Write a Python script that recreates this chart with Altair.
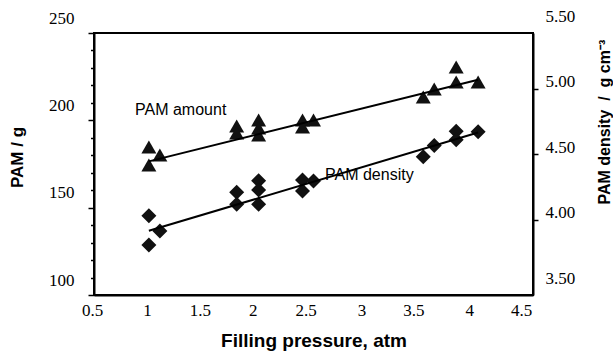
import altair as alt
import pandas as pd

# PAM amount (left axis, g) against filling pressure (atm)
pressure_amount = [1.0, 1.0, 1.1, 1.8, 1.8, 2.0, 2.0, 2.0, 2.4, 2.4, 2.5, 3.5, 3.6, 3.8, 3.8, 4.0]
pam_amount = [184.7, 174.4, 180.2, 196.8, 192.7, 200.2, 195.6, 191.6, 200.2, 196.2, 200.2,
              213.4, 218.0, 230.5, 221.9, 221.9]

# PAM density (right axis, g cm-3) against filling pressure (atm)
pressure_density = [1.0, 1.0, 1.1, 1.8, 1.8, 2.0, 2.0, 2.0, 2.4, 2.4, 2.5, 3.5, 3.6, 3.8, 3.8, 4.0]
pam_density = [4.105, 3.882, 3.989, 4.284, 4.192, 4.373, 4.302, 4.192, 4.378, 4.294, 4.370,
               4.556, 4.641, 4.750, 4.686, 4.747]

# straight-line fits through each series
fit_pressure = [1.0, 4.0]
amount_fit = [176.5, 223.2]
density_fit = [3.99, 4.74]

# in-plot series labels
amount_label = {"text": "PAM amount", "pressure": 0.874, "value": 203.0}
density_label = {"text": "PAM density", "pressure": 2.605, "value": 4.378}

x_ticks = [0.5, 1.0, 1.5, 2.0, 2.5, 3.0, 3.5, 4.0, 4.5]
left_ticks = list(range(100, 251, 10))
right_ticks = [3.5, 4.0, 4.5, 5.0, 5.5]

df_amount = pd.DataFrame({"pressure": pressure_amount, "amount": pam_amount})
df_density = pd.DataFrame({"pressure": pressure_density, "density": pam_density})
df_amount_fit = pd.DataFrame({"pressure": fit_pressure, "amount": amount_fit})
df_density_fit = pd.DataFrame({"pressure": fit_pressure, "density": density_fit})
df_amount_lbl = pd.DataFrame([{"pressure": amount_label["pressure"], "amount": amount_label["value"],
                               "text": amount_label["text"]}])
df_density_lbl = pd.DataFrame([{"pressure": density_label["pressure"], "density": density_label["value"],
                                "text": density_label["text"]}])

SERIF = "Liberation Serif"
SANS = "Liberation Sans"
INK = "#111111"

x_label_shift = [
    {"test": "abs(datum.value - 1.5) < 0.01", "value": -4},
    {"test": "abs(datum.value - 2.0) < 0.01", "value": -6},
    {"test": "abs(datum.value - 2.5) < 0.01", "value": -8},
    {"test": "abs(datum.value - 3.0) < 0.01", "value": -7},
    {"test": "abs(datum.value - 3.5) < 0.01", "value": -10},
    {"test": "abs(datum.value - 4.0) < 0.01", "value": -9},
    {"test": "abs(datum.value - 4.5) < 0.01", "value": -12},
]

x_axis = alt.Axis(
    values=x_ticks, format="~g", ticks=False, grid=False, labelFlush=False, labelOverlap=False,
    labelFont=SERIF, labelFontSize=17, labelPadding=7, labelColor="black",
    labelOffset={"condition": x_label_shift, "value": -2},
    domainColor="black", domainWidth=2,
    title="Filling pressure, atm", titleFont=SANS, titleFontSize=19, titleFontWeight="bold",
    titleColor="black", titleBaseline="alphabetic", titleY=51,
)

left_axis = alt.Axis(
    orient="left", values=left_ticks, grid=False, labelFlush=False,
    labelExpr="datum.value % 50 === 0 ? datum.label : ''",
    labelFont=SERIF, labelFontSize=17, labelColor="black", labelOffset=-15, labelPadding=14,
    tickColor="black", tickWidth=1.5,
    tickSize={"condition": {"test": "datum.value % 50 === 0", "value": 6}, "value": 3.5},
    domainColor="black", domainWidth=2,
    title="PAM / g", titleFont=SANS, titleFontSize=17, titleFontWeight="bold", titleColor="black",
    titleAngle=270, titleAlign="center", titleBaseline="alphabetic", titleX=-72, titleY=124,
)

right_axis = alt.Axis(
    orient="right", values=right_ticks, format=".2f", grid=False, labelFlush=False,
    labelFont=SERIF, labelFontSize=17, labelColor="black", labelPadding=7,
    tickOffset=-10, labelOffset=-7, tickSize=5, tickWidth=1.5,
    tickColor={"condition": {"test": "datum.value < 3.75 || datum.value > 5.25", "value": "transparent"},
               "value": "black"},
    domainColor="black", domainWidth=2,
    title="PAM density\u00a0\u00a0/\u00a0\u00a0g cm\u207b\u00b3", titleFont=SANS, titleFontSize=16,
    titleFontWeight="bold", titleColor="black", titleAngle=270, titleAlign="left",
    titleBaseline="alphabetic", titleX=76, titleY=171,
)

x_enc = alt.X("pressure:Q", scale=alt.Scale(domain=[0.5, 4.5], nice=False, zero=False), axis=x_axis)
y_amount = alt.Y("amount:Q", scale=alt.Scale(domain=[100, 250], nice=False, zero=False), axis=left_axis)
y_density = alt.Y("density:Q", scale=alt.Scale(domain=[3.5, 5.5], nice=False, zero=False), axis=right_axis)

amount_points = alt.Chart(df_amount).mark_point(
    shape="triangle-up", filled=True, size=225, color=INK, opacity=1
).encode(x=x_enc, y=y_amount)
amount_line = alt.Chart(df_amount_fit).mark_line(color="black", strokeWidth=2).encode(x=x_enc, y=y_amount)
amount_text = alt.Chart(df_amount_lbl).mark_text(
    font=SANS, fontSize=16, color="black", align="left", baseline="alphabetic"
).encode(x=x_enc, y=y_amount, text="text:N")

density_points = alt.Chart(df_density).mark_point(
    shape="diamond", filled=True, size=225, color=INK, opacity=1
).encode(x=x_enc, y=y_density)
density_line = alt.Chart(df_density_fit).mark_line(color="black", strokeWidth=2).encode(x=x_enc, y=y_density)
density_text = alt.Chart(df_density_lbl).mark_text(
    font=SANS, fontSize=16, color="black", align="left", baseline="alphabetic"
).encode(x=x_enc, y=y_density, text="text:N")

amount_layer = alt.layer(amount_points, amount_line, amount_text)
density_layer = alt.layer(density_points, density_line, density_text)

chart = (
    alt.layer(amount_layer, density_layer)
    .resolve_scale(y="independent")
    .properties(
        width=439, height=262,
        autosize=alt.AutoSizeParams(type="none"),
        padding={"left": 94, "top": 33, "right": 80, "bottom": 62},
        background="white",
    )
    .configure_view(stroke="black", strokeWidth=2)
)

chart.save("out.html", embed_options={"renderer": "svg", "actions": False})
